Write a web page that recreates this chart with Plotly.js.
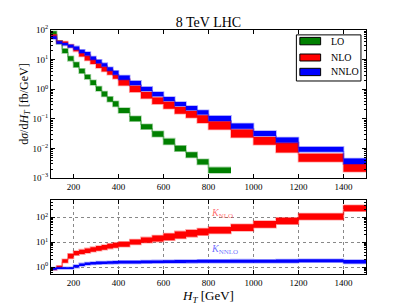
<!DOCTYPE html>
<html><head><meta charset="utf-8">
<script src="https://cdn.plot.ly/plotly-3.0.1.min.js"></script>
<style>html,body{margin:0;padding:0;background:#fff}#chart{width:407px;height:305px}</style>
</head><body><div id="chart"></div>
<script>
// ---- data ----
const binEdges = [100,125,150,175,200,225,250,275,300,325,350,375,400,450,500,550,600,650,700,750,800,900,1000,1100,1200,1400,1500];

const loLow  = [69, 34, 16.6, 9.1, 5.5, 3.5, 2.2, 1.4, 0.88, 0.57, 0.38, 0.26, 0.157, 0.083, 0.045, 0.025, 0.0137, 0.0081, 0.005, 0.0029, 0.00148];
const loHigh = [90, 43, 23.3, 12.9, 8.1, 4.9, 3.1, 2.0, 1.24, 0.84, 0.56, 0.39, 0.233, 0.123, 0.066, 0.038, 0.0215, 0.0124, 0.0075, 0.0043, 0.0023];

const nloLow  = [55, 36, 32, 26, 19, 12.8, 9.4, 7.1, 5.2, 4.0, 3.1, 2.25, 1.34, 0.8, 0.49, 0.315, 0.22, 0.15, 0.11, 0.073, 0.044, 0.0234, 0.0135, 0.0073, 0.0036, 0.00165];
const nloHigh = [70, 43, 41, 32, 24.6, 18, 13.9, 10.7, 7.6, 5.9, 4.6, 3.1, 2.25, 1.31, 0.81, 0.525, 0.375, 0.25, 0.185, 0.133, 0.083, 0.044, 0.0245, 0.0158, 0.0066, 0.003];

const nnloLow  = [50, 34.4, 30.3, 25.9, 21.6, 16.6, 13.9, 9.9, 7.6, 5.9, 4.2, 3.1, 2.1, 1.38, 0.88, 0.58, 0.40, 0.27, 0.195, 0.14, 0.085, 0.0465, 0.0265, 0.0158, 0.0077, 0.003];
const nnloHigh = [62, 41.4, 36.3, 31.8, 28, 21.6, 18, 12.8, 9.9, 7.6, 5.5, 4.2, 2.9, 1.91, 1.2, 0.81, 0.55, 0.37, 0.27, 0.195, 0.126, 0.07, 0.039, 0.0234, 0.0113, 0.0046];

const kNloLow  = [0.76, 0.92, 1.5, 2.2, 3.0, 3.3, 3.7, 4.1, 4.5, 5.0, 5.5, 6.0, 6.5, 8.0, 9.5, 10.5, 12, 14, 16.3, 19, 22.3, 28, 38, 52, 80, 175];
const kNloHigh = [0.92, 1.12, 2.05, 3.4, 4.4, 5.0, 5.6, 6.3, 7.0, 7.6, 8.6, 9.4, 10.3, 12.8, 15.5, 18.5, 22, 27, 31, 35, 41, 52, 70, 95, 140, 300];

const kNnloLow  = [0.78, 0.83, 0.83, 0.83, 0.95, 1.1, 1.2, 1.27, 1.3, 1.32, 1.34, 1.36, 1.38, 1.4, 1.42, 1.44, 1.45, 1.46, 1.47, 1.48, 1.5, 1.5, 1.48, 1.5, 1.55, 1.4];
const kNnloHigh = [0.95, 0.97, 0.97, 0.97, 1.2, 1.4, 1.52, 1.6, 1.65, 1.67, 1.7, 1.74, 1.78, 1.8, 1.82, 1.85, 1.88, 1.9, 1.92, 1.94, 1.96, 1.98, 1.96, 2.0, 2.05, 1.9];

const xTickVals = [200,400,600,800,1000,1200,1400];
const yTopTickVals = [0.001,0.01,0.1,1,10,100];
const yTopTickText = ['10<sup>−3</sup>','10<sup>−2</sup>','10<sup>−1</sup>','10<sup>0</sup>','10<sup>1</sup>','10<sup>2</sup>'];
const yBotTickVals = [1,10,100];
const yBotTickText = ['10<sup>0</sup>','10<sup>1</sup>','10<sup>2</sup>'];
const legendLabels = ['LO','NLO','NNLO'];
const chartTitle = '8 TeV LHC';

// ---- styles ----
const FONT = 'Liberation Serif, Times New Roman, serif';
const GREEN = '#008000', RED = '#ff0000', BLUE = '#0000ff';
const GREEN_E = 'rgba(0,128,0,0.35)', RED_E = 'rgba(255,0,0,0.35)', BLUE_E = 'rgba(0,0,255,0.35)';

function band(low, high, color, edge, xa, ya) {
  const n = low.length;
  const x = binEdges.slice(0, n + 1);
  const lo = low.concat([low[n - 1]]);
  const hi = high.concat([high[n - 1]]);
  const common = {type:'scatter', mode:'lines', x:x, xaxis:xa, yaxis:ya,
    line:{shape:'hv', color:edge, width:1.6}, showlegend:false, hoverinfo:'skip'};
  return [Object.assign({}, common, {y:lo}),
          Object.assign({}, common, {y:hi, fill:'tonexty', fillcolor:color})];
}

const data = [].concat(
  band(loLow, loHigh, GREEN, GREEN_E, 'x', 'y'),
  band(nloLow, nloHigh, RED, RED_E, 'x', 'y'),
  band(nnloLow, nnloHigh, BLUE, BLUE_E, 'x', 'y'),
  band(kNloLow, kNloHigh, RED, RED_E, 'x2', 'y2'),
  band(kNnloLow, kNnloHigh, BLUE, BLUE_E, 'x2', 'y2')
);

function minorLog(dmin, dmax, lo, hi) {
  const v = [];
  for (let d = dmin; d <= dmax; d++) for (let m = 2; m <= 9; m++) {
    const t = m * Math.pow(10, d); if (t > lo && t < hi) v.push(t);
  }
  return v;
}

const axisCommon = {showline:true, linecolor:'black', linewidth:1, mirror:'allticks',
  ticks:'inside', ticklen:4, tickcolor:'black', zeroline:false,
  tickfont:{family:FONT, size:9, color:'black'}};

const xCommon = Object.assign({}, axisCommon, {range:[100,1500], tickmode:'array', tickvals:xTickVals});

const layout = {
  width:407, height:305,
  margin:{l:51, r:41, t:30, b:31},
  paper_bgcolor:'white', plot_bgcolor:'white',
  showlegend:false,
  font:{family:FONT, color:'black'},
  title:{text:chartTitle, font:{family:FONT, size:14, color:'black'},
         x:0.5, xref:'paper', xanchor:'center', y:0.928, yref:'container', yanchor:'middle'},
  xaxis:Object.assign({}, xCommon, {anchor:'y', showgrid:false}),
  yaxis:Object.assign({}, axisCommon, {domain:[0.393,1], anchor:'x', type:'log', range:[-3,2],
    tickmode:'array', tickvals:yTopTickVals, ticktext:yTopTickText, showgrid:false,
    tickfont:{family:FONT, size:9, color:'black'},
    minor:{tickmode:'array', tickvals:minorLog(-3,1,0.001,100), ticks:'inside', ticklen:2, tickcolor:'black', showgrid:false},
    title:{text:'d<i>σ</i>/d<i>H</i><sub><i>T</i></sub> [fb/GeV]', font:{family:FONT, size:12, color:'black'}, standoff:1}}),
  xaxis2:Object.assign({}, xCommon, {anchor:'y2', showgrid:true, gridcolor:'#888', griddash:'dot', gridwidth:1,
    title:{text:'<i>H</i><sub><i>T</i></sub> [GeV]', font:{family:FONT, size:13, color:'black'}, standoff:1}}),
  yaxis2:Object.assign({}, axisCommon, {domain:[0,0.303], anchor:'x2', type:'log', range:[-0.28,2.69],
    tickmode:'array', tickvals:yBotTickVals, ticktext:yBotTickText,
    showgrid:true, gridcolor:'#888', griddash:'dot', gridwidth:1,
    minor:{tickmode:'array', tickvals:minorLog(-1,2,0.52,490), ticks:'inside', ticklen:2, tickcolor:'black', showgrid:false}}),
  shapes:[
    {type:'rect', xref:'paper', yref:'paper', x0:0.779, x1:0.984, y0:0.791, y1:0.980, line:{color:'black', width:1}, fillcolor:'white'},
    {type:'rect', xref:'paper', yref:'paper', x0:0.790, x1:0.856, y0:0.9393, y1:0.9697, line:{color:'black', width:1}, fillcolor:GREEN},
    {type:'rect', xref:'paper', yref:'paper', x0:0.790, x1:0.856, y0:0.873, y1:0.9016, line:{color:'black', width:1}, fillcolor:RED},
    {type:'rect', xref:'paper', yref:'paper', x0:0.790, x1:0.856, y0:0.813, y1:0.843, line:{color:'black', width:1}, fillcolor:BLUE}
  ],
  annotations:[
    {xref:'paper', yref:'paper', x:0.883, y:0.9545, xanchor:'left', yanchor:'middle', showarrow:false, text:legendLabels[0], font:{family:FONT, size:10, color:'black'}},
    {xref:'paper', yref:'paper', x:0.883, y:0.8873, xanchor:'left', yanchor:'middle', showarrow:false, text:legendLabels[1], font:{family:FONT, size:10, color:'black'}},
    {xref:'paper', yref:'paper', x:0.883, y:0.828, xanchor:'left', yanchor:'middle', showarrow:false, text:legendLabels[2], font:{family:FONT, size:10, color:'black'}},
    {xref:'x2', yref:'y2', x:800, y:2.14, xanchor:'left', yanchor:'middle', showarrow:false, text:'<i>K</i><sub>NLO</sub>', font:{family:FONT, size:10, color:'rgba(255,0,0,0.6)'}},
    {xref:'x2', yref:'y2', x:800, y:0.72, xanchor:'left', yanchor:'middle', showarrow:false, text:'<i>K</i><sub>NNLO</sub>', font:{family:FONT, size:10, color:'rgba(0,0,255,0.6)'}}
  ]
};

Plotly.newPlot('chart', data, layout, {staticPlot:true, displayModeBar:false});
</script>
</body></html>
